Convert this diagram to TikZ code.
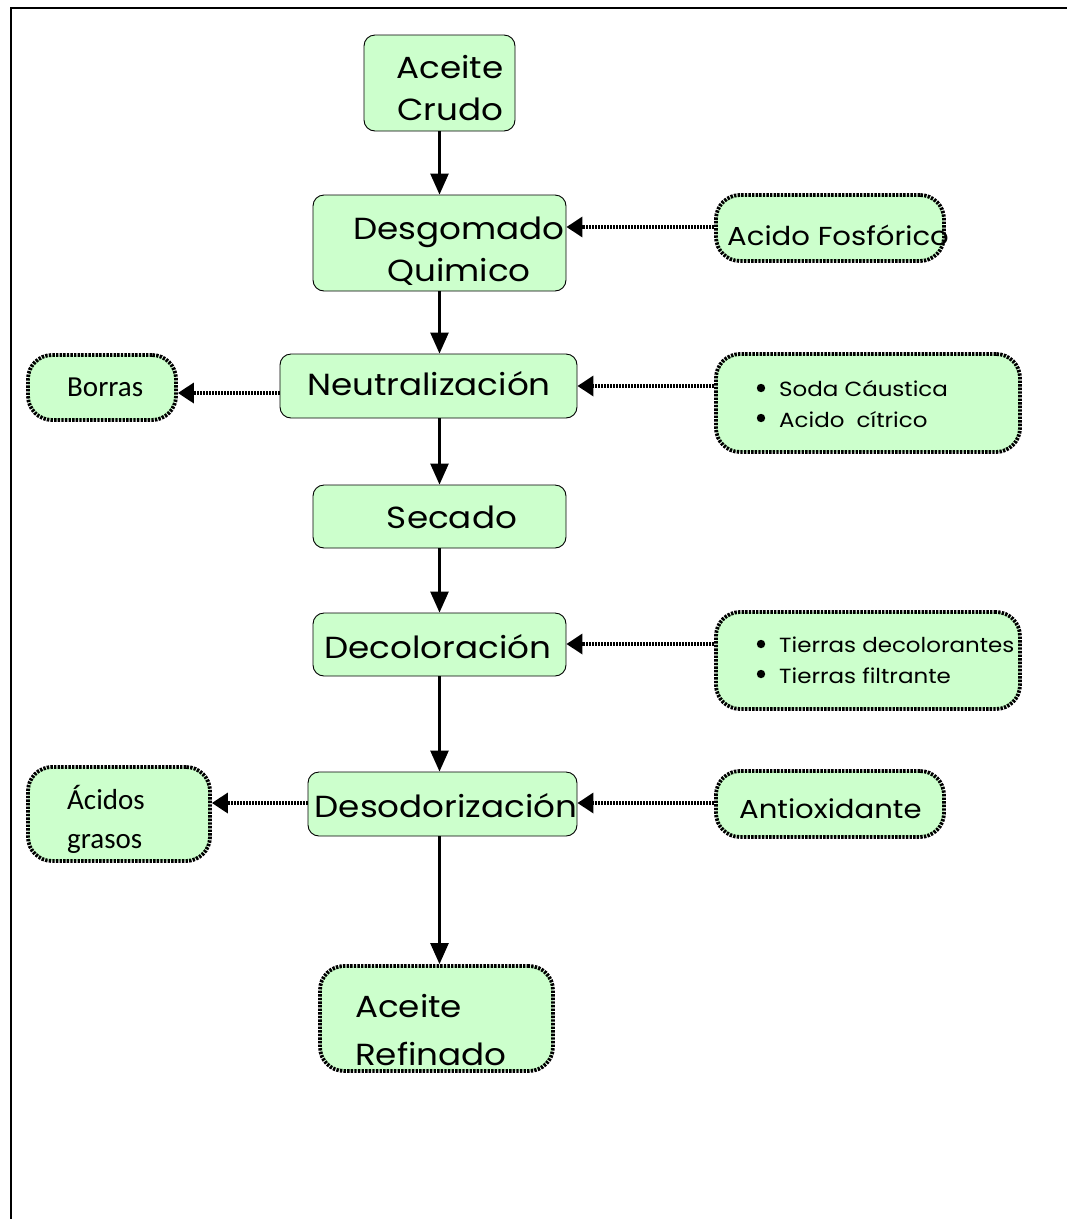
\documentclass[tikz,border=0pt]{standalone}
\usepackage{fontspec}
\usetikzlibrary{arrows.meta}
\newfontfamily\calib{Carlito}
\newfontfamily\gothic{Poppins}[FakeStretch=1.12]
\definecolor{boxgreen}{RGB}{204,255,204}
\tikzset{
  procbox/.style={draw, line width=0.9pt, fill=boxgreen, rounded corners=11pt, inner sep=0pt},
  supplybox/.style={draw, line width=3.8pt, dash pattern=on 2.4pt off 1.2pt, fill=boxgreen, rounded corners=24pt, inner sep=0pt},
  maintxt/.style={font=\gothic\fontsize{30.5}{42}\selectfont, inner sep=0pt, align=center},
  sidetxt/.style={font=\gothic\fontsize{26}{30}\selectfont, inner sep=0pt, anchor=base west},
  listtxt/.style={font=\gothic\fontsize{20.5}{30}\selectfont, inner sep=0pt, anchor=base west},
  caltxt/.style={font=\calib\fontsize{29}{40}\selectfont, inner sep=0pt, anchor=base west},
  flow/.style={line width=2.6pt, -{Triangle[length=21pt,width=18pt]}},
  feed/.style={line width=3.5pt, dash pattern=on 2pt off 1pt, -{Triangle[length=16pt,width=20pt]}},
}
\begin{document}
\begin{tikzpicture}[x=1pt,y=-1pt]
\useasboundingbox (0,0) rectangle (1067,1219);
% page frame
\draw[line width=1.2pt] (11,1219) -- (11,8) -- (1067,8);

% main process column
\node[procbox, minimum width=151pt, minimum height=96pt] (crudo) at (439.5,83) {};
\node[procbox, minimum width=253pt, minimum height=96pt] (desgom) at (439.5,243) {};
\node[procbox, minimum width=297pt, minimum height=64pt] (neutra) at (428.5,386) {};
\node[procbox, minimum width=253pt, minimum height=63pt] (secado) at (439.5,516.5) {};
\node[procbox, minimum width=253pt, minimum height=63pt] (decolo) at (439.5,644.5) {};
\node[procbox, minimum width=269pt, minimum height=64pt] (desodo) at (442.5,804) {};
\node[supplybox, minimum width=233pt, minimum height=105pt] (refina) at (436.5,1018.5) {};

% side inputs and outputs
\node[supplybox, minimum width=228pt, minimum height=66pt] (fosfo) at (830,228) {};
\node[supplybox, minimum width=148pt, minimum height=65pt] (borras) at (102,387.5) {};
\node[supplybox, minimum width=304pt, minimum height=98pt] (soda) at (868,403) {};
\node[supplybox, minimum width=304pt, minimum height=97pt] (tierras) at (868,660.5) {};
\node[supplybox, minimum width=182pt, minimum height=94pt] (acidos) at (119,814) {};
\node[supplybox, minimum width=228pt, minimum height=66pt] (antiox) at (830,804) {};

% labels
\node[maintxt] (tcrudo) at (450,88) {Aceite\\Crudo};
\node[maintxt] (tdesgom) at (459,251) {Desgomado\\Quimico};
\node[maintxt] (tneutra) at (429,384) {Neutralización};
\node[maintxt] (tsecado) at (452,517) {Secado};
\node[maintxt] (tdecolo) at (438,647) {Decoloración};
\node[maintxt] (tdesodo) at (446,806) {Desodorización};
\node[maintxt, anchor=base west] (trefina1) at (355,1017) {Aceite};
\node[maintxt, anchor=base west] (trefina2) at (355,1065) {Refinado};

\node[sidetxt] (tfosfo) at (727,245) {Acido Fosfórico};
\node[sidetxt] (tantiox) at (739,818) {Antioxidante};
\node[listtxt] (tsoda1) at (779,396) {Soda Cáustica};
\node[listtxt] (tsoda2) at (779,427) {Acido\ \ cítrico};
\node[listtxt] (ttier1) at (779,652) {Tierras decolorantes};
\node[listtxt] (ttier2) at (779,683) {Tierras filtrante};
\foreach \yy in {388, 418, 644, 674}
  \fill (761,\yy) circle (4.2pt);

\node[caltxt] (tborras) at (67,396) {Borras};
\node[caltxt] (tacid1) at (67,809) {Ácidos};
\node[caltxt] (tacid2) at (67,848) {grasos};

% main flow
\draw[flow] (crudo.south) -- (desgom.north);
\draw[flow] (desgom.south) -- (neutra.north -| desgom.south);
\draw[flow] (neutra.south -| desgom.south) -- (secado.north);
\draw[flow] (secado.south) -- (decolo.north);
\draw[flow] (decolo.south) -- (desodo.north -| decolo.south);
\draw[flow] (desodo.south -| decolo.south) -- (refina.north -| decolo.south);

% additions and by-products
\draw[feed] (fosfo.west |- 0,227) -- (desgom.east |- 0,227);
\draw[feed] (soda.west |- 0,386) -- (neutra.east |- 0,386);
\draw[feed] (neutra.west |- 0,393) -- (borras.east |- 0,393);
\draw[feed] (tierras.west |- 0,644) -- (decolo.east |- 0,644);
\draw[feed] (antiox.west |- 0,803) -- (desodo.east |- 0,803);
\draw[feed] (desodo.west |- 0,803) -- (acidos.east |- 0,803);
\end{tikzpicture}
\end{document}
